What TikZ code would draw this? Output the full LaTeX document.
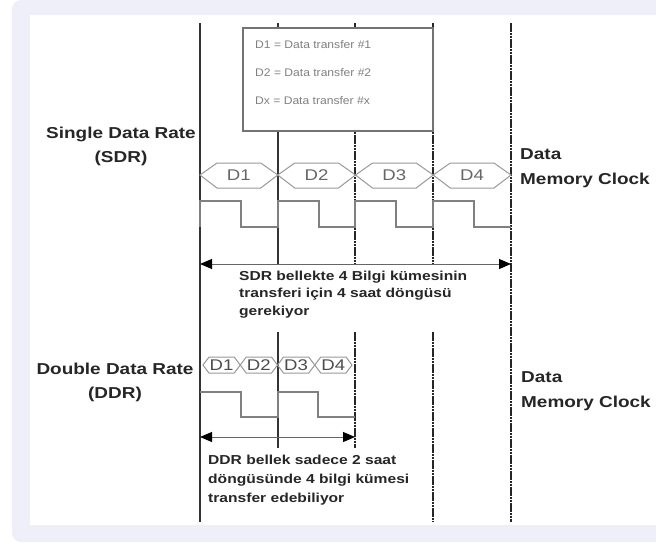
\documentclass[tikz,border=0pt]{standalone}
\usepackage{fontspec}
\setmainfont{Liberation Sans}
\newfontfamily\stretchfont{Liberation Sans}[FakeStretch=1.2]
\newfontfamily\legfont{Liberation Sans}[FakeStretch=1.1]
\usetikzlibrary{arrows.meta}
\definecolor{bgc}{RGB}{238,239,248}
\begin{document}
\begin{tikzpicture}[x=1pt,y=-1pt,
  biglab/.style={font=\stretchfont\bfseries\fontsize{15.8}{18}\selectfont, text=black!85, inner sep=0pt},
  expl/.style={font=\stretchfont\bfseries\fontsize{13}{17}\selectfont, text=black!85, inner sep=0pt, anchor=base west},
  leg/.style={font=\legfont\fontsize{11}{12}\selectfont, text=black!50, inner sep=0pt, anchor=base west},
  hexlab/.style={font=\stretchfont\fontsize{15.5}{16}\selectfont, text=black!60, inner sep=0pt},
  solidv/.style={draw=black!80, line width=1.3pt},
  dashv/.style={draw=black!85, line width=1.3pt, dash pattern=on 2.5pt off 0.7pt},
  hexline/.style={draw=black!40, line width=1pt, line join=miter},
  clk/.style={draw=black!50, line width=1.1pt},
  dimarrow/.style={draw=black!60, line width=1pt, {Triangle[length=12pt,width=10pt,black]}-{Triangle[length=12pt,width=10pt,black]}},
  legbox/.style={draw=black!55, fill=white, line width=1.1pt}]
\useasboundingbox (0,0) rectangle (656,542);
\fill[white] (0,0) rectangle (656,542);
\fill[bgc, rounded corners=9pt] (12,0) rectangle (690,542);
\fill[white] (30,15) rectangle (656,525);

% vertical timing lines
\coordinate (L1t) at (200,23);  \coordinate (L1b) at (200,522);
\coordinate (L2t) at (278,23);  \coordinate (L2m) at (278,264);
\coordinate (L2s) at (278,332); \coordinate (L2b) at (278,448);
\coordinate (L3t) at (355,23);  \coordinate (L3m) at (355,264);
\coordinate (L3s) at (355,332); \coordinate (L3b) at (355,448);
\coordinate (L4t) at (433,23);  \coordinate (L4m) at (433,264);
\coordinate (L4s) at (433,332); \coordinate (L4b) at (433,522);
\coordinate (L5t) at (511,23);  \coordinate (L5b) at (511,522);
\draw[solidv] (L1t) -- (L1b);
\draw[solidv] (L2t) -- (L2m);
\draw[solidv] (L2s) -- (L2b);
\draw[dashv] (L3t) -- (L3m);
\draw[dashv] (L3s) -- (L3b);
\draw[dashv] (L4t) -- (L4m);
\draw[dashv] (L4s) -- (L4b);
\draw[dashv] (L5t) -- (L5b);

% legend
\draw[legbox] (243,28) rectangle (433,131);
\node[leg] (leg1) at (255,48.8) {D1 = Data transfer \#1};
\node[leg] (leg2) at (255,76.8) {D2 = Data transfer \#2};
\node[leg] (leg3) at (255,104.8) {Dx = Data transfer \#x};

% SDR labels
\node[biglab, anchor=base] (sdr1) at (121,138.5) {Single Data Rate};
\node[biglab, anchor=base] (sdr2) at (121,162.5) {(SDR)};
\node[biglab, anchor=base west] (data1) at (520,159.5) {Data};
\node[biglab, anchor=base west] (mc1) at (520,184.5) {Memory Clock};

% SDR data hexagons
\foreach \i/\lab in {0/D1,1/D2,2/D3,3/D4}{
  \pgfmathsetmacro{\xl}{200+77.75*\i}
  \pgfmathsetmacro{\xr}{\xl+77.75}
  \draw[hexline] (\xl,175) -- (\xl+17,163) -- (\xr-17,163) -- (\xr,175) -- (\xr-17,188) -- (\xl+17,188) -- cycle;
  \node[hexlab] (sh\i) at ({(\xl+\xr)/2},175.5) {\lab};
}

% SDR clock
\draw[clk] (200,227) -- (200,201) -- (241,201) -- (241,227) -- (278,227) -- (278,201)
  -- (319,201) -- (319,227) -- (355,227) -- (355,201) -- (396,201) -- (396,227)
  -- (433,227) -- (433,201) -- (474,201) -- (474,227) -- (511,227);

% SDR arrow
\coordinate (sa1) at (200,264); \coordinate (sa2) at (511,264);
\draw[dimarrow] (sa1) -- (sa2);
\node[expl] (st1) at (239,280.7) {SDR bellekte 4 Bilgi kümesinin};
\node[expl] (st2) at (239,297.7) {transferi için 4 saat döngüsü};
\node[expl] (st3) at (239,315.7) {gerekiyor};

% DDR labels
\node[biglab, anchor=base] (ddr1) at (115,374.5) {Double Data Rate};
\node[biglab, anchor=base] (ddr2) at (115,398.5) {(DDR)};
\node[biglab, anchor=base west] (data2) at (521,382.5) {Data};
\node[biglab, anchor=base west] (mc2) at (521,407.5) {Memory Clock};

% DDR data hexagons
\foreach \i/\lab in {0/D1,1/D2,2/D3,3/D4}{
  \pgfmathsetmacro{\xl}{203+37.25*\i}
  \pgfmathsetmacro{\xr}{\xl+37.25}
  \draw[hexline] (\xl,365) -- (\xl+6,357) -- (\xr-6,357) -- (\xr,365) -- (\xr-6,373) -- (\xl+6,373) -- cycle;
  \node[hexlab, text=black!70] (dh\i) at ({(\xl+\xr)/2},365.5) {\lab};
}

% DDR clock
\draw[clk] (200,392) -- (241,392) -- (241,417) -- (278,417) -- (278,392)
  -- (318,392) -- (318,417) -- (355,417);

% DDR arrow
\coordinate (da1) at (200,437); \coordinate (da2) at (355,437);
\draw[dimarrow] (da1) -- (da2);
\node[expl] (dt1) at (208,464.7) {DDR bellek sadece 2 saat};
\node[expl] (dt2) at (208,483.7) {döngüsünde 4 bilgi kümesi};
\node[expl] (dt3) at (208,502.7) {transfer edebiliyor};
\end{tikzpicture}
\end{document}
